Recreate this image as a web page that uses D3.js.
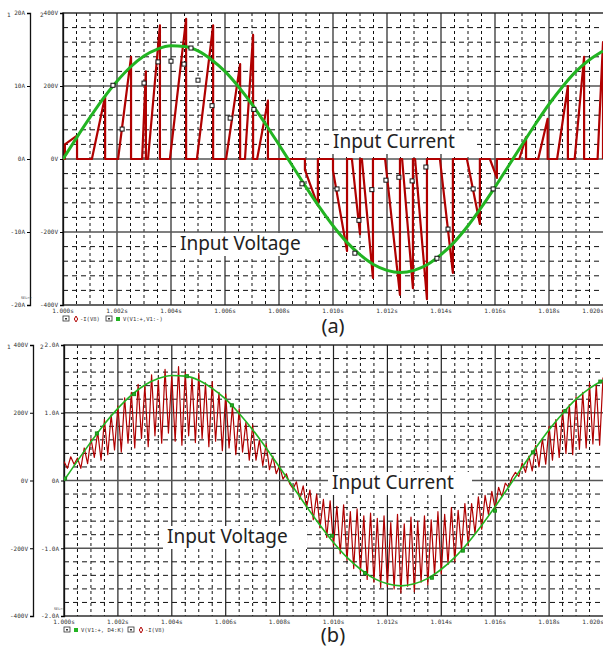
<!DOCTYPE html>
<html>
<head>
<meta charset="utf-8">
<script src="https://cdn.jsdelivr.net/npm/d3@7/dist/d3.min.js"></script>
<style>
  body { margin: 0; background: #fff; }
  svg { display: block; }
</style>
</head>
<body>
<svg id="chart" width="603" height="648"></svg>
<script>
// ---- data (time in ms after 1.000s) ----
const timeLabels = ["1.000s","1.002s","1.004s","1.006s","1.008s","1.010s","1.012s","1.014s","1.016s","1.018s","1.020s"];
const voltLabels = ["-400V","-200V","0V","200V","400V"];
const ampLabelsA = ["-20A","-10A","0A","10A","20A"];
const ampLabelsB = ["-2.0A","-1.0A","0A","1.0A","2.0A"];

// input voltage read every 0.5 ms
const voltStep = 0.5;
const inputVoltage = [0,58,114,167,213,252,282,301,310,308,296,272,240,198,150,96,39,-19,-77,-132,-183,
  -227,-262,-289,-305,-311,-305,-289,-262,-227,-183,-132,-77,-19,39,96,150,198,240,272,296];

// (a) discontinuous current: each pulse ramps from pulseFrom to pulseTo, then snaps back to 0
const pulseStart = [0.07,1.07,2.04,2.93,3.15,3.96,4.96,6.04,6.74,7.19, 8.96,10.0,10.7,11.07,11.93,12.56,13.04,13.96,14.96,15.81, 16.9,17.6,18.3,18.95,19.8];
const pulseEnd   = [0.52,1.56,2.52,3.07,3.59,4.56,5.56,6.56,7.04,7.59, 9.44,10.52,11.0,11.48,12.48,12.96,13.48,14.44,15.44,16.07, 17.15,17.95,18.7,19.3,20.0];
const pulseFrom  = [2.0,0,0,0,0,0,0,0,0,0, -1.5,-1.6,0,0,0,0,0,0,0,0, 0,0,0,0,0];
const pulseTo    = [3.2,8.6,14,12,18.3,19.2,18.3,13,17,8, -6.4,-12.6,-10.3,-16.3,-18.6,-17.7,-19.2,-15.6,-8.9,-2.6, 3,5.5,10,14,16];

// (a) marker squares on the current trace
const markT_a = [1.85,2.19,3.0,3.52,4.0,4.48,4.74,5.0,5.52,6.19,7.07, 8.85,10.15,10.96,10.81,11.44,11.96,12.44,12.93,13.44,13.85,14.26,15.19,15.93];
const markI_a = [10.1,4.1,10.4,13.3,13.4,13.0,15.2,10.8,7.3,5.6,6.8, -3.4,-4.1,-8.4,-12.9,-4.2,-2.9,-2.5,-3.0,-1.1,-13.6,-9.6,-4.1,-4.1];

// (b) continuous current with ripple, read every 0.125 ms
const rippleStep = 0.125;
const rippleCurrent = [
  0.28,0.18,0.35,0.24,0.33,0.18,0.48,0.25,0.62,0.34,0.72,0.30,0.90,0.38,0.97,0.45,
  1.10,0.42,1.22,0.55,1.30,0.48,1.42,0.62,1.40,0.50,1.56,0.66,1.48,0.55,1.64,0.70,
  1.55,0.58,1.68,0.52,1.60,0.66,1.52,0.56,1.58,0.62,1.44,0.50,1.46,0.58,1.30,0.44,
  1.28,0.48,1.10,0.38,1.06,0.42,0.86,0.30,0.82,0.30,0.60,0.22,0.54,0.16,0.36,0.10,
  0.22,0.02,0.10,-0.05,-0.12,-0.02,-0.28,-0.08,-0.40,-0.14,-0.58,-0.20,-0.70,-0.28,-0.84,-0.30,
  -0.96,-0.38,-1.08,-0.36,-1.18,-0.46,-1.30,-0.42,-1.36,-0.52,-1.46,-0.48,-1.50,-0.56,-1.58,-0.52,
  -1.56,-0.62,-1.60,-0.50,-1.66,-0.64,-1.56,-0.54,-1.64,-0.60,-1.50,-0.52,-1.54,-0.58,-1.40,-0.46,
  -1.38,-0.50,-1.24,-0.40,-1.20,-0.44,-1.02,-0.34,-0.96,-0.34,-0.78,-0.24,-0.72,-0.22,-0.50,-0.16,
  -0.42,-0.10,-0.24,-0.04,-0.10,0.04,0.12,0.06,0.26,0.12,0.36,0.14,0.52,0.20,0.62,0.24,
  0.80,0.30,0.90,0.34,1.04,0.40,1.12,0.38,1.24,0.46,1.30,0.48,1.44,0.54,1.42,0.52,1.52];

// (b) marker squares on the voltage trace
const markT_b = [0.04,1.22,2.6,4.56,6.23,9.94,11.17,13.65,14.8,15.99,17.4,18.6,19.9];
const markV_b = [6,139,255,308,222,-163,-273,-287,-207,-89,83,205,292];

const red = "#b00000", green = "#22b422";
const svg = d3.select("#chart");

function drawPanel(p) {
  const g = svg.append("g");
  const x = d3.scaleLinear().domain([0, 20]).range([p.left, p.right]);
  const yV = d3.scaleLinear().domain([-400, 400]).range([p.bottom, p.top]);
  const yI = d3.scaleLinear().domain([-p.ampMax, p.ampMax]).range([p.bottom, p.top]);

  // minor dashed grid
  g.selectAll(".vmin").data(d3.range(0.5, 20, 0.5).filter(t => t % 2 !== 0)).enter().append("line")
    .attr("x1", d => x(d)).attr("x2", d => x(d)).attr("y1", p.top).attr("y2", p.bottom)
    .attr("stroke", "#111").attr("stroke-width", 1).attr("stroke-dasharray", "3,3");
  g.selectAll(".hmin").data(d3.range(-360, 400, 40).filter(v => v % 200 !== 0)).enter().append("line")
    .attr("x1", p.left).attr("x2", p.right).attr("y1", d => yV(d)).attr("y2", d => yV(d))
    .attr("stroke", "#111").attr("stroke-width", 1).attr("stroke-dasharray", "5,4");

  // major solid grid
  g.selectAll(".vmaj").data(d3.range(2, 20, 2)).enter().append("line")
    .attr("x1", d => x(d)).attr("x2", d => x(d)).attr("y1", p.top).attr("y2", p.bottom)
    .attr("stroke", "#222").attr("stroke-width", 1.2);
  g.selectAll(".hmaj").data([-200, 0, 200]).enter().append("line")
    .attr("x1", p.left).attr("x2", p.right).attr("y1", d => yV(d)).attr("y2", d => yV(d))
    .attr("stroke", "#555").attr("stroke-width", 1.4);

  // frame
  g.append("rect").attr("x", p.left).attr("y", p.top)
    .attr("width", p.right - p.left + 5).attr("height", p.bottom - p.top)
    .attr("fill", "none").attr("stroke", "#222").attr("stroke-width", 1.4);

  // axis 1 (detached) and axis 2 (on the frame)
  const ampTicks = [-p.ampMax, -p.ampMax / 2, 0, p.ampMax / 2, p.ampMax];
  const voltTicks = [-400, -200, 0, 200, 400];
  const ax1 = d3.axisLeft(p.axis1 === "V" ? yV : yI).tickValues(p.axis1 === "V" ? voltTicks : ampTicks)
    .tickSize(3).tickFormat((d, i) => p.labels1[i]);
  const ax2 = d3.axisLeft(p.axis1 === "V" ? yI : yV).tickValues(p.axis1 === "V" ? ampTicks : voltTicks)
    .tickSize(3).tickFormat((d, i) => p.labels2[i]);
  [[ax1, p.axis1X], [ax2, p.left]].forEach(([ax, pos]) => {
    const a = g.append("g").attr("transform", `translate(${pos},0)`).call(ax);
    a.select(".domain").attr("stroke", "#111").attr("stroke-width", 1.3);
    a.selectAll("text").attr("font-family", "DejaVu Sans Mono").attr("font-size", 6).attr("fill", "#333").attr("dx", 1);
  });
  g.append("text").attr("x", 7).attr("y", p.top + 4).text("1");
  g.append("text").attr("x", 40).attr("y", p.top + 4).text("2");
  g.append("text").attr("x", p.selX).attr("y", p.bottom - 6).text("SEL>>").attr("font-size", 3.5);

  // time labels
  g.selectAll(".tl").data(timeLabels).enter().append("text")
    .attr("x", (d, i) => Math.min(x(i * 2), p.right - 10)).attr("y", p.bottom + 8)
    .attr("text-anchor", "middle").text(d => d);
  g.selectAll("text").filter(function () { return !this.getAttribute("font-family"); })
    .attr("font-family", "DejaVu Sans Mono").attr("font-size", function () { return this.getAttribute("font-size") || 6; }).attr("fill", "#333");

  // traces
  const clipId = "clip" + p.name;
  svg.append("clipPath").attr("id", clipId).append("rect")
    .attr("x", p.left).attr("y", p.top - 2).attr("width", p.right - p.left).attr("height", p.bottom - p.top + 4);
  const traces = g.append("g").attr("clip-path", `url(#${clipId})`);
  const line = d3.line().x(d => x(d[0])).y(d => yI(d[1]));
  traces.append("path").datum(p.current).attr("d", line)
    .attr("fill", "none").attr("stroke", red).attr("stroke-width", p.redWidth).attr("stroke-linejoin", "round");
  const vline = d3.line().x(d => x(d[0])).y(d => yV(d[1])).curve(d3.curveMonotoneX);
  traces.append("path").datum(inputVoltage.map((v, i) => [i * voltStep, v])).attr("d", vline)
    .attr("fill", "none").attr("stroke", green).attr("stroke-width", p.greenWidth);

  // markers
  const ms = p.markSize;
  traces.selectAll(".mk").data(p.markers).enter().append("rect")
    .attr("x", d => x(d[0]) - ms / 2).attr("y", d => (p.markScale === "V" ? yV : yI)(d[1]) - ms / 2)
    .attr("width", ms).attr("height", ms)
    .attr("fill", p.markFill).attr("stroke", p.markStroke).attr("stroke-width", 1);

  // legend
  const ly = p.bottom + 14;
  let lx = p.left;
  p.legend.forEach(item => {
    g.append("rect").attr("x", lx).attr("y", ly - 3).attr("width", 6).attr("height", 5)
      .attr("fill", "#fff").attr("stroke", "#333").attr("stroke-width", 0.8);
    g.append("rect").attr("x", lx + 2).attr("y", ly - 1).attr("width", 2).attr("height", 1.5).attr("fill", "#333");
    if (item.shape === "diamond") {
      g.append("path").attr("d", d3.symbol(d3.symbolDiamond, 10)()).attr("transform", `translate(${lx + 13},${ly})`)
        .attr("fill", "none").attr("stroke", item.color).attr("stroke-width", 1);
    } else {
      g.append("rect").attr("x", lx + 10).attr("y", ly - 2).attr("width", 4).attr("height", 4)
        .attr("fill", item.color);
    }
    g.append("text").attr("x", lx + 17).attr("y", ly + 2).text(item.text)
      .attr("font-family", "DejaVu Sans Mono").attr("font-size", 5.5).attr("fill", "#333");
    lx += item.width;
  });

  // annotations
  p.notes.forEach(n => {
    g.append("rect").attr("x", n.x - 4).attr("y", n.y - 17).attr("width", 144).attr("height", 23).attr("fill", "#fff");
    g.append("text").attr("x", n.x).attr("y", n.y).text(n.text)
      .attr("font-family", "Noto Sans").attr("font-size", 19).attr("fill", "#222");
  });

  g.append("text").attr("x", 333).attr("y", p.labelY).attr("text-anchor", "middle")
    .attr("font-family", "Noto Sans").attr("font-size", 20).attr("fill", "#222").text(p.name === "a" ? "(a)" : "(b)");
}

// build the pulse trace for (a)
const currentA = [[0, 0]];
pulseStart.forEach((t0, i) => {
  currentA.push([t0, 0], [t0, pulseFrom[i]], [pulseEnd[i], pulseTo[i]], [pulseEnd[i], 0]);
});
currentA.push([20, 0]);

drawPanel({
  name: "a", left: 63, right: 603, top: 13, bottom: 305, axis1X: 30, selX: 21, labelY: 333,
  ampMax: 20, axis1: "I", labels1: ampLabelsA, labels2: voltLabels,
  current: currentA, redWidth: 2.2, greenWidth: 3,
  markers: markT_a.map((t, i) => [t, markI_a[i]]), markScale: "I", markSize: 4, markFill: "#fff", markStroke: "#111",
  legend: [{ shape: "diamond", color: red, text: "-I(V8)", width: 43 },
           { shape: "square", color: green, text: "V(V1:+,V1:-)", width: 80 }],
  notes: [{ x: 333, y: 148, text: "Input Current" }, { x: 180, y: 250, text: "Input Voltage" }]
});

drawPanel({
  name: "b", left: 64, right: 603, top: 345, bottom: 616, axis1X: 33, selX: 54, labelY: 642,
  ampMax: 2, axis1: "V", labels1: voltLabels, labels2: ampLabelsB,
  current: rippleCurrent.map((v, i) => [i * rippleStep, v]), redWidth: 1.2, greenWidth: 1.6,
  markers: markT_b.map((t, i) => [t, markV_b[i]]), markScale: "V", markSize: 3, markFill: green, markStroke: "#1a8a1a",
  legend: [{ shape: "square", color: green, text: "V(V1:+, D4:K)", width: 64 },
           { shape: "diamond", color: red, text: "-I(V8)", width: 43 }],
  notes: [{ x: 332, y: 489, text: "Input Current" }, { x: 167, y: 543, text: "Input Voltage" }]
});
</script>
</body>
</html>
